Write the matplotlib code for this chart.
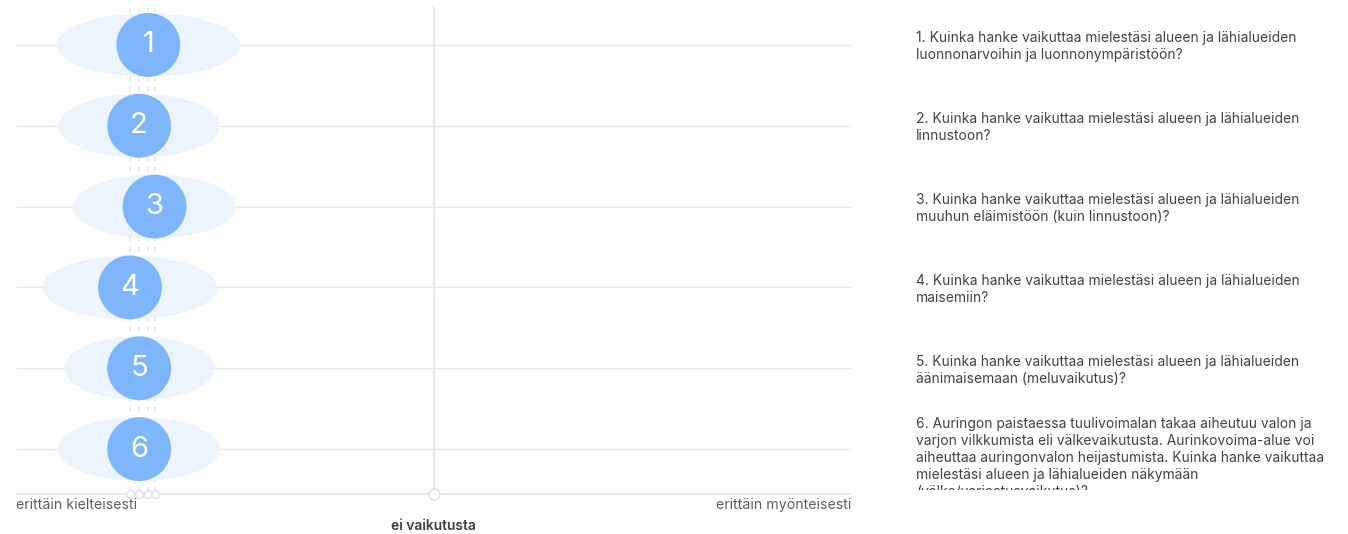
import matplotlib.pyplot as plt
from matplotlib.patches import Ellipse

plt.rcParams['font.family'] = ['Inter', 'DejaVu Sans']

labels = ["1", "2", "3", "4", "5", "6"]
means = [-0.683, -0.705, -0.668, -0.727, -0.705, -0.705]
spreads = [0.220, 0.194, 0.195, 0.209, 0.180, 0.194]
questions = [
    "1. Kuinka hanke vaikuttaa mielestäsi alueen ja lähialueiden\nluonnonarvoihin ja luonnonympäristöön?",
    "2. Kuinka hanke vaikuttaa mielestäsi alueen ja lähialueiden\nlinnustoon?",
    "3. Kuinka hanke vaikuttaa mielestäsi alueen ja lähialueiden\nmuuhun eläimistöön (kuin linnustoon)?",
    "4. Kuinka hanke vaikuttaa mielestäsi alueen ja lähialueiden\nmaisemiin?",
    "5. Kuinka hanke vaikuttaa mielestäsi alueen ja lähialueiden\näänimaisemaan (meluvaikutus)?",
    "6. Auringon paistaessa tuulivoimalan takaa aiheutuu valon ja\nvarjon vilkkumista eli välkevaikutusta. Aurinkovoima-alue voi\naiheuttaa auringonvalon heijastumista. Kuinka hanke vaikuttaa\nmielestäsi alueen ja lähialueiden näkymään\n(välke/varjostusvaikutus)?",
]
left_label = "erittäin kielteisesti"
right_label = "erittäin myönteisesti"
mid_label = "ei vaikutusta"

W, H = 1348, 534
fig = plt.figure(figsize=(W / 100, H / 100), dpi=100)
ax = fig.add_axes([16 / W, 40 / H, 835 / W, 487 / H])

rows = list(range(len(labels)))
px = 81.0  # pixels per row
y_top = -38 / px
y_bot = rows[-1] + 45 / px
ax.set_xlim(-1, 1)
ax.set_ylim(y_bot, y_top)
ax.axis("off")

grid_c = "#e4e8ec"
ax.hlines(rows, -1, 1, color=grid_c, lw=1, zorder=0)
ax.hlines(y_bot, -1, 1, color=grid_c, lw=1.5, zorder=0, clip_on=False)
ax.vlines(0, y_top, y_bot, color=grid_c, lw=1.5, zorder=0)

# dashed guide lines down to the axis
for m in sorted(set(means)):
    ax.vlines(m, y_top, y_bot, color="#e6e9ed", lw=1.2, linestyles=(0, (3, 3)), zorder=1)
ax.scatter(means, [y_bot] * len(means), s=30, facecolor="white",
           edgecolor="#e0e4e8", lw=1.2, zorder=4, clip_on=False)
ax.scatter([0], [y_bot], s=60, facecolor="white",
           edgecolor="#e0e4e8", lw=1.2, zorder=4, clip_on=False)

for r, m, s in zip(rows, means, spreads):
    ax.add_patch(Ellipse((m, r), 2 * s, 64 / px, facecolor="#eaf3fe", alpha=0.9,
                         edgecolor="none", zorder=2))

ax.scatter(means, rows, s=2116, color="#7db6fb", edgecolor="none", zorder=3)
for r, m, lab in zip(rows, means, labels):
    ax.text(m, r, lab, color="white", fontsize=21, ha="center", va="center", zorder=5)

ax.text(-1, y_bot + 11 / px, left_label, ha="left", va="center", fontsize=10.2, color="#5a5f66")
ax.text(1, y_bot + 11 / px, right_label, ha="right", va="center", fontsize=10.2, color="#5a5f66")
ax.text(0, y_bot + 32 / px, mid_label, ha="center", va="center", fontsize=10,
        color="#3c4046", fontweight="semibold")

# question texts on the right, clipped at the bottom
ax2 = fig.add_axes([905 / W, 44 / H, 440 / W, 483 / H])
ax2.set_xlim(0, 1)
ax2.set_ylim(y_top + 483 / px, y_top)
ax2.axis("off")
for r, q in zip(rows, questions):
    off = 0.1 if q.count("\n") > 1 else 0.015
    t = ax2.text(11 / 440, r + off, q, ha="left", va="center", fontsize=9.95,
                 color="#414349", linespacing=1.27)
    t.set_clip_on(True)

fig.savefig("out.png", dpi=100, facecolor="white")
